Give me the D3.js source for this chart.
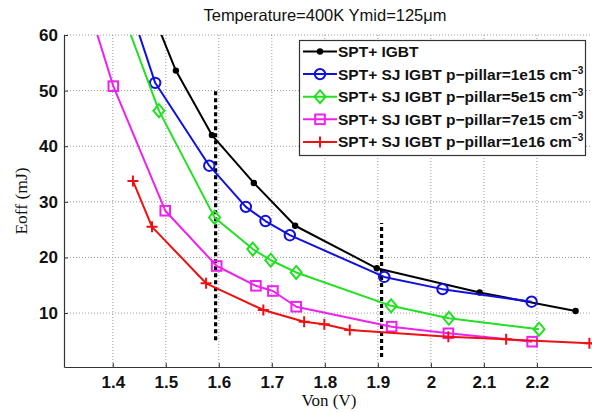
<!DOCTYPE html>
<html>
<head>
<meta charset="utf-8">
<script src="https://cdn.jsdelivr.net/npm/d3@7"></script>
<style>
  html, body { margin: 0; padding: 0; background: #fff; }
  svg { display: block; }
</style>
</head>
<body>
<svg id="chart" width="592" height="413"></svg>
<script>
// Turn-off energy vs on-state voltage, T = 400 K, Ymid = 125 µm
const seriesNames = [
  "SPT+ IGBT",
  "SPT+ SJ IGBT p\u2212pillar=1e15 cm",
  "SPT+ SJ IGBT p\u2212pillar=5e15 cm",
  "SPT+ SJ IGBT p\u2212pillar=7e15 cm",
  "SPT+ SJ IGBT p\u2212pillar=1e16 cm"
];
const seriesSup = ["", "\u22123", "\u22123", "\u22123", "\u22123"];

const vonSpt   = [1.48, 1.519, 1.587, 1.666, 1.744, 1.898, 2.092, 2.273];
const eoffSpt  = [62.8, 53.6, 42.0, 33.4, 25.7, 18.05, 13.7, 10.37];

const von1e15  = [1.44, 1.480, 1.582, 1.651, 1.688, 1.734, 1.912, 2.022, 2.190];
const eoff1e15 = [62.9, 51.4, 36.5, 29.1, 26.55, 24.0, 16.5, 14.3, 12.04];

const von5e15  = [1.42, 1.487, 1.592, 1.664, 1.698, 1.746, 1.925, 2.034, 2.204];
const eoff5e15 = [63.6, 46.4, 27.2, 21.5, 19.5, 17.3, 11.3, 9.06, 7.1];

const von7e15  = [1.36, 1.401, 1.499, 1.596, 1.670, 1.702, 1.746, 1.926, 2.033, 2.191];
const eoff7e15 = [63.4, 50.8, 28.4, 18.46, 14.9, 13.97, 11.14, 7.55, 6.36, 4.85];

const von1e16  = [1.438, 1.474, 1.576, 1.684, 1.761, 1.799, 1.847, 2.033, 2.142, 2.299, 2.40];
const eoff1e16 = [33.75, 25.5, 15.35, 10.55, 8.45, 7.98, 6.95, 5.75, 5.28, 4.56, 4.3];

// vertical dashed reference markers: [Von, Eoff bottom, Eoff top]
const refVon    = [1.594, 1.907];
const refBottom = [5.1, 2.1];
const refTop    = [50.0, 26.2];

const xTicks = [1.4, 1.5, 1.6, 1.7, 1.8, 1.9, 2.0, 2.1, 2.2];
const yTicks = [10, 20, 30, 40, 50, 60];

const titleText = "Temperature=400K Ymid=125\u03bcm";
const xLabel = "Von (V)";
const yLabel = "Eoff (mJ)";

const colors = ["#000000", "#1010e0", "#22e022", "#ee22ee", "#ee1111"];
const markers = ["dot", "circle", "diamond", "square", "plus"];

const series = [
  [vonSpt, eoffSpt], [von1e15, eoff1e15], [von5e15, eoff5e15],
  [von7e15, eoff7e15], [von1e16, eoff1e16]
].map(([xs, ys], i) => ({
  name: seriesNames[i], sup: seriesSup[i], color: colors[i], marker: markers[i],
  pts: xs.map((xv, k) => ({ x: xv, y: ys[k] }))
}));

const svg = d3.select("#chart");
const plotLeft = 64, plotTop = 35, plotBottom = 367, plotRight = 600;

const x = d3.scaleLinear().domain([1.308, 2.319]).range([plotLeft, plotRight]);
const y = d3.scaleLinear().domain([0.3, 60]).range([plotBottom, plotTop]);

svg.append("defs").append("clipPath").attr("id", "plotClip")
  .append("rect").attr("x", plotLeft).attr("y", plotTop)
  .attr("width", plotRight - plotLeft).attr("height", plotBottom - plotTop);

// grid
const grid = svg.append("g").attr("stroke", "#9a9a9a").attr("stroke-width", 1)
  .attr("stroke-dasharray", "1,2");
grid.selectAll("line.gx").data(xTicks).join("line").attr("class", "gx")
  .attr("x1", d => x(d)).attr("x2", d => x(d))
  .attr("y1", plotTop).attr("y2", plotBottom);
grid.selectAll("line.gy").data(yTicks).join("line").attr("class", "gy")
  .attr("x1", plotLeft).attr("x2", 592)
  .attr("y1", d => y(d)).attr("y2", d => y(d));

// axes
const xAxis = d3.axisBottom(x).tickValues(xTicks).tickSizeInner(-4).tickSizeOuter(0)
  .tickPadding(9).tickFormat(d3.format("~g"));
const yAxis = d3.axisLeft(y).tickValues(yTicks).tickSizeInner(-4).tickSizeOuter(0)
  .tickPadding(6).tickFormat(d3.format("d"));

const gx = svg.append("g").attr("transform", `translate(0,${plotBottom})`).call(xAxis);
const gy = svg.append("g").attr("transform", `translate(${plotLeft},0)`).call(yAxis);
[gx, gy].forEach(g => {
  g.select(".domain").attr("stroke", "#333").attr("stroke-width", 1.2);
  g.selectAll(".tick line").attr("stroke", "#333");
  g.selectAll(".tick text").attr("fill", "#111")
    .style("font-family", "'Liberation Sans', Arial, sans-serif")
    .style("font-size", "17px").style("font-weight", "bold");
});

// reference dashed lines
svg.append("g").selectAll("line").data(refVon).join("line")
  .attr("x1", d => x(d)).attr("x2", d => x(d))
  .attr("y1", (d, i) => y(refBottom[i])).attr("y2", (d, i) => y(refTop[i]))
  .attr("stroke", "#000").attr("stroke-width", 3.2).attr("stroke-dasharray", "4,3");

// curves
const line = d3.line().x(d => x(d.x)).y(d => y(d.y));
const plot = svg.append("g").attr("clip-path", "url(#plotClip)");

function drawMarker(g, type, color, cx, cy) {
  if (type === "dot") {
    g.append("circle").attr("cx", cx).attr("cy", cy).attr("r", 3.2).attr("fill", color);
  } else if (type === "circle") {
    g.append("circle").attr("cx", cx).attr("cy", cy).attr("r", 5.2)
      .attr("fill", "none").attr("stroke", color).attr("stroke-width", 2);
  } else if (type === "diamond") {
    g.append("path").attr("d", `M${cx},${cy - 6.5}L${cx + 5.5},${cy}L${cx},${cy + 6.5}L${cx - 5.5},${cy}Z`)
      .attr("fill", "none").attr("stroke", color).attr("stroke-width", 2);
  } else if (type === "square") {
    g.append("rect").attr("x", cx - 4.8).attr("y", cy - 4.8).attr("width", 9.6).attr("height", 9.6)
      .attr("fill", "none").attr("stroke", color).attr("stroke-width", 2);
  } else if (type === "plus") {
    g.append("path").attr("d", `M${cx - 5.5},${cy}H${cx + 5.5}M${cx},${cy - 5.5}V${cy + 5.5}`)
      .attr("fill", "none").attr("stroke", color).attr("stroke-width", 2);
  }
}

series.forEach(s => {
  plot.append("path").datum(s.pts).attr("d", line)
    .attr("fill", "none").attr("stroke", s.color).attr("stroke-width", 2)
    .attr("stroke-linejoin", "round");
  const mg = plot.append("g");
  s.pts.forEach(p => drawMarker(mg, s.marker, s.color, x(p.x), y(p.y)));
});

// title and axis labels
svg.append("text").attr("x", 325).attr("y", 21).attr("text-anchor", "middle")
  .style("font-family", "'Liberation Sans', Arial, sans-serif").style("font-size", "16.5px")
  .attr("fill", "#111").text(titleText);

svg.append("text").attr("x", 329).attr("y", 406).attr("text-anchor", "middle")
  .style("font-family", "'Liberation Serif', 'Times New Roman', serif").style("font-size", "17px")
  .attr("fill", "#111").text(xLabel);

svg.append("text").attr("transform", `translate(27,${(plotTop + plotBottom) / 2}) rotate(-90)`)
  .attr("text-anchor", "middle")
  .style("font-family", "'Liberation Serif', 'Times New Roman', serif").style("font-size", "17.5px")
  .attr("fill", "#111").text(yLabel);

// legend
const lg = svg.append("g");
lg.append("rect").attr("x", 299.5).attr("y", 40.5).attr("width", 286).attr("height", 115)
  .attr("fill", "#fff").attr("stroke", "#333").attr("stroke-width", 1.2);
series.forEach((s, i) => {
  const cy = 51.5 + i * 22.6;
  lg.append("line").attr("x1", 303).attr("x2", 337).attr("y1", cy).attr("y2", cy)
    .attr("stroke", s.color).attr("stroke-width", 2);
  drawMarker(lg, s.marker, s.color, 320, cy);
  const t = lg.append("text").attr("x", 338).attr("y", cy + 5.5)
    .style("font-family", "'Liberation Sans', Arial, sans-serif").style("font-size", "15.5px")
    .style("font-weight", "bold").attr("fill", "#111");
  t.append("tspan").text(s.name);
  if (s.sup) {
    t.append("tspan").attr("dy", -6).style("font-size", "10px").text(s.sup);
  }
});
</script>
</body>
</html>
